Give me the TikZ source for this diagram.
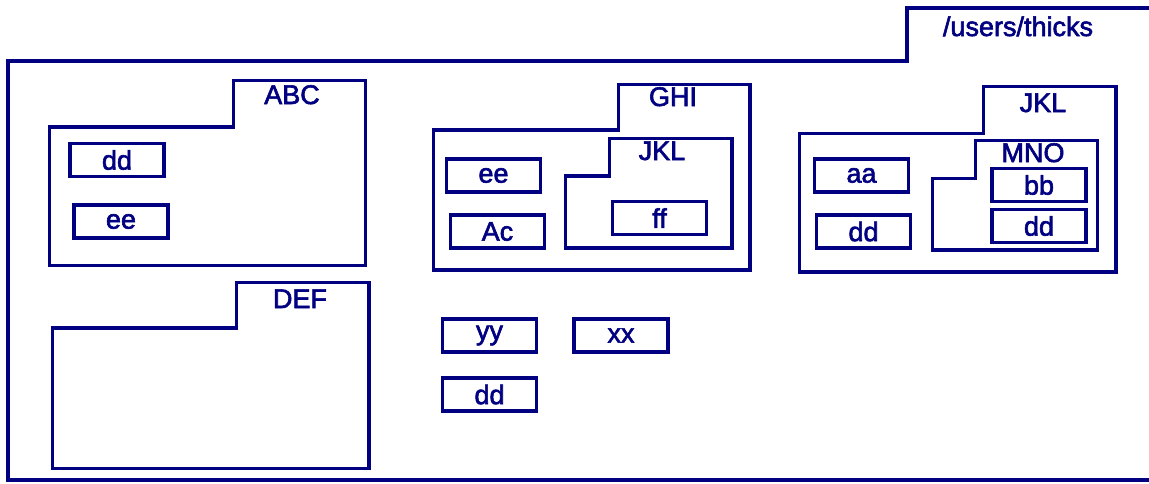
\documentclass[tikz,border=0pt]{standalone}
\usepackage{fontspec}
\setmainfont{Liberation Sans}
\newfontfamily\labelfont{Liberation Sans}[FakeBold=2.2]
\definecolor{navy}{RGB}{0,0,128}

\begin{document}
\begin{tikzpicture}[x=1pt,y=-1pt]
\tikzstyle{every node}+=[inner sep=0pt, text=navy, font=\fontsize{27}{30}\labelfont]
\tikzstyle{folder}=[draw=navy, line width=3.5pt, line join=miter]
\tikzstyle{file}=[draw=navy, line width=3.5pt, minimum width=94pt, minimum height=33pt]
\useasboundingbox (0,0) rectangle (1149,483);
% top folder, open to the right
\draw [folder] (1152,8) -- (907,8) -- (907,61) -- (8,61) -- (8,480) -- (1152,480);
\node [anchor=base] (users) at (1018,36) {/users/thicks};
% ABC
\draw [folder] (49.5,127) -- (233.5,127) -- (233.5,80.5) -- (365.5,80.5) -- (365.5,265.5) -- (49.5,265.5) -- cycle;
\node [anchor=base] (abc) at (292,104) {ABC};
\node [file] (abcdd) at (117,160) {dd};
\node [file] (abcee) at (121,221.5) {ee};
% DEF
\draw [folder] (52.5,328) -- (236.5,328) -- (236.5,282.5) -- (369,282.5) -- (369,468.5) -- (52.5,468.5) -- cycle;
\node [anchor=base] (def) at (300,308) {DEF};
% GHI
\draw [folder] (433.5,130) -- (618.5,130) -- (618.5,84.5) -- (750,84.5) -- (750,270) -- (433.5,270) -- cycle;
\node [anchor=base] (ghi) at (673,106) {GHI};
\node [file] (ghiee) at (493.5,175.5) {ee};
\node [file] (ghiac) at (497.5,231.5) {Ac};
\draw [folder] (565.5,176) -- (609.5,176) -- (609.5,138.5) -- (732,138.5) -- (732,248) -- (565.5,248) -- cycle;
\node [anchor=base] (ghijkl) at (662,160) {JKL};
\node [file] (ff) at (659.5,218) {ff};
% JKL
\draw [folder] (799.5,133.5) -- (983.5,133.5) -- (983.5,86.5) -- (1116,86.5) -- (1116,272) -- (799.5,272) -- cycle;
\node [anchor=base] (jkl) at (1043,112) {JKL};
\node [file] (aa) at (861.5,175.5) {aa};
\node [file] (jkldd) at (863.5,231.5) {dd};
\draw [folder] (932.5,178.5) -- (975.5,178.5) -- (975.5,140.5) -- (1097.5,140.5) -- (1097.5,250) -- (932.5,250) -- cycle;
\node [anchor=base] (mno) at (1033,162) {MNO};
\node [file] (bb) at (1039,185) {bb};
\node [file] (mnodd) at (1039,226) {dd};
% loose files
\node [file] (yy) at (489.5,335.5) {yy};
\node [file] (xx) at (621,335.5) {xx};
\node [file] (dd) at (489.5,394.5) {dd};
\end{tikzpicture}
\end{document}
